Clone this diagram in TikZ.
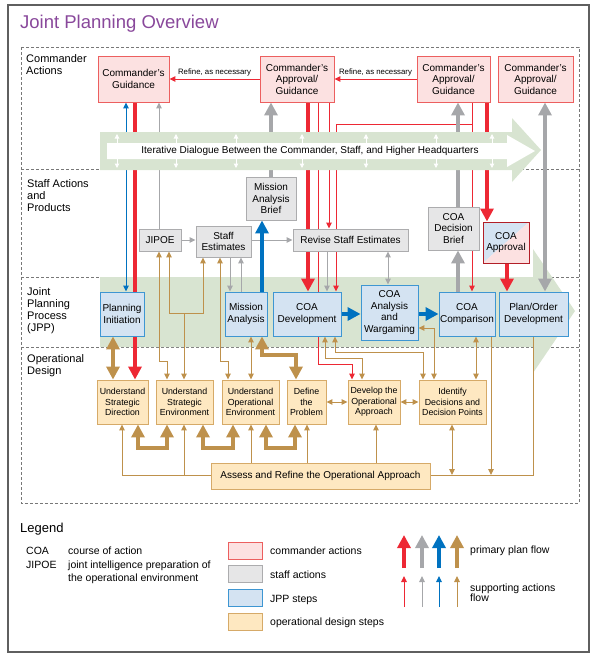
\documentclass[tikz,border=0pt]{standalone}
\usepackage[dvipsnames]{xcolor}
\usepackage{fontspec}
\setmainfont{Liberation Sans}
\usepackage{tikz}
\usetikzlibrary{arrows.meta}
\pgfdeclarelayer{bandlayer}
\pgfdeclarelayer{linelayer}
\pgfdeclarelayer{toplayer}
\pgfsetlayers{bandlayer,linelayer,main,toplayer}

\definecolor{cmdfill}{RGB}{252,225,225}
\definecolor{cmdline}{RGB}{236,95,95}
\definecolor{stafffill}{RGB}{230,230,231}
\definecolor{staffline}{RGB}{172,172,174}
\definecolor{jppfill}{RGB}{212,227,242}
\definecolor{jppline}{RGB}{62,150,210}
\definecolor{opfill}{RGB}{254,232,193}
\definecolor{opline}{RGB}{214,170,104}
\definecolor{bandgreen}{RGB}{216,228,209}
\definecolor{flowred}{RGB}{237,40,52}
\definecolor{flowgray}{RGB}{166,167,170}
\definecolor{flowblue}{RGB}{0,114,192}
\definecolor{flowtan}{RGB}{190,145,76}
\definecolor{titlepurple}{RGB}{137,72,155}
\definecolor{framegray}{RGB}{95,95,95}
\definecolor{dashgray}{RGB}{120,120,120}

\newcommand{\boxfont}{\fontsize{10}{11.5}\selectfont}
\newcommand{\opfont}{\fontsize{8.8}{10.3}\selectfont}
\newcommand{\rowlabelfont}{\fontsize{11}{12}\selectfont}
\newcommand{\notefont}{\fontsize{7.8}{9}\selectfont}
\newcommand{\legendfont}{\fontsize{10.5}{13}\selectfont}

\tikzset{
	box/.style={draw, line width=0.9pt, align=center, inner sep=1pt, font=\boxfont},
	cmdbox/.style={box, fill=cmdfill, draw=cmdline},
	staffbox/.style={box, fill=stafffill, draw=staffline},
	jppbox/.style={box, fill=jppfill, draw=jppline},
	opbox/.style={box, fill=opfill, draw=opline, font=\opfont},
	rowlabel/.style={anchor=north west, inner sep=0, align=left, font=\rowlabelfont},
	legendtext/.style={anchor=base west, inner sep=0, font=\legendfont},
	divider/.style={dashgray, line width=0.9pt, dash pattern=on 3pt off 2pt},
	bigtip/.tip={Triangle[length=13pt,width=13pt]},
	smalltip/.tip={Triangle[length=6pt,width=5.5pt]},
	ticktip/.tip={Triangle[length=4.5pt,width=4.5pt]},
	mainflow/.style={line width=4.5pt, -bigtip},
	mainflows/.style={line width=4.5pt, bigtip-bigtip},
	sideflow/.style={line width=1pt, -smalltip},
	sideflows/.style={line width=1pt, smalltip-smalltip},
	dialogtick/.style={white, line width=1pt, ticktip-ticktip},
}

\begin{document}
\begin{tikzpicture}[x=1pt, y=-1pt]
	\useasboundingbox (0,0) rectangle (594,657);
	\draw[line width=1.4pt, framegray] (8,5) rectangle (589,652);
	\node[anchor=base west, inner sep=0, font=\fontsize{18.5}{20}\selectfont, text=titlepurple] (title) at (20,28) {Joint Planning Overview};

	\begin{pgfonlayer}{bandlayer}
		\draw[divider] (21,47) rectangle (579,503);
		\draw[divider] (21,169) -- (579,169);
		\draw[divider] (21,277) -- (579,277);
		\draw[divider] (21,347) -- (579,347);
		\fill[bandgreen] (100,277) -- (533,277) -- (533,249) -- (575,311) -- (533,373) -- (533,347) -- (100,347) -- cycle;
	\end{pgfonlayer}

	\node[rowlabel] (rowcmd) at (26,54) {Commander\\Actions};
	\node[rowlabel] (rowstaff) at (27,179) {Staff Actions\\and\\Products};
	\node[rowlabel] (rowjpp) at (27,287) {Joint\\Planning\\Process\\(JPP)};
	\node[rowlabel] (rowop) at (27,354) {Operational\\Design};

	\node[cmdbox, minimum width=71, minimum height=46] (cg) at (133.5,79) {Commander's\\Guidance};
	\node[cmdbox, minimum width=74, minimum height=46] (ap1) at (297,79) {Commander's\\Approval/\\Guidance};
	\node[cmdbox, minimum width=73, minimum height=46] (ap2) at (453.5,79) {Commander's\\Approval/\\Guidance};
	\node[cmdbox, minimum width=75, minimum height=46] (ap3) at (535.5,79) {Commander's\\Approval/\\Guidance};

	\node[staffbox, minimum width=50, minimum height=43] (mab) at (271,198.5) {Mission\\Analysis\\Brief};
	\node[staffbox, minimum width=42, minimum height=22] (jipoe) at (160,240) {JIPOE};
	\node[staffbox, minimum width=55, minimum height=31] (se) at (223.5,241.5) {Staff\\Estimates};
	\node[staffbox, minimum width=115, minimum height=22] (rse) at (350.5,240) {Revise Staff Estimates};
	\node[staffbox, minimum width=51, minimum height=43] (cdb) at (453.5,228.5) {COA\\Decision\\Brief};
	\node[box, draw=flowred!75!black, line width=1pt, minimum width=46, minimum height=41,
		path picture={
			\fill[jppfill] (path picture bounding box.north west) -- (path picture bounding box.north east) -- (path picture bounding box.south west) -- cycle;
			\fill[cmdfill] (path picture bounding box.north east) -- (path picture bounding box.south east) -- (path picture bounding box.south west) -- cycle;
		}] (capp) at (506,242.5) {COA\\Approval};

	\node[jppbox, minimum width=44, minimum height=44] (pi) at (122,314) {Planning\\Initiation};
	\node[jppbox, minimum width=42, minimum height=44] (ma) at (246,314) {Mission\\Analysis};
	\node[jppbox, minimum width=68, minimum height=44] (cd) at (307,314) {COA\\Development};
	\node[jppbox, minimum width=57, minimum height=55] (caw) at (389.5,312.5) {COA\\Analysis\\and\\Wargaming};
	\node[jppbox, minimum width=56, minimum height=44] (cc) at (467,314) {COA\\Comparison};
	\node[jppbox, minimum width=69, minimum height=44] (pod) at (533.5,314) {Plan/Order\\Development};

	\node[opbox, minimum width=51, minimum height=44] (usd) at (122.5,402) {Understand\\Strategic\\Direction};
	\node[opbox, minimum width=57, minimum height=44] (use) at (184.5,402) {Understand\\Strategic\\Environment};
	\node[opbox, minimum width=57, minimum height=44] (uoe) at (250.5,402) {Understand\\Operational\\Environment};
	\node[opbox, minimum width=39, minimum height=44] (dtp) at (306.5,402) {Define\\the\\Problem};
	\node[opbox, minimum width=52, minimum height=44] (doa) at (374,402) {Develop the\\Operational\\Approach};
	\node[opbox, minimum width=67, minimum height=44] (iddp) at (452.5,402) {Identify\\Decisions and\\Decision Points};
	\node[opbox, font=\boxfont, minimum width=219, minimum height=26] (arop) at (320.5,476) {Assess and Refine the Operational Approach};

	\begin{pgfonlayer}{linelayer}
		\draw[sideflow, flowred] (ap1.west) -- node[above, font=\notefont, inner sep=2pt, text=black] {Refine, as necessary} (cg.east);
		\draw[sideflow, flowred] (ap2.west) -- node[above, font=\notefont, inner sep=2pt, text=black] {Refine, as necessary} (ap1.east);
		\draw[mainflow, flowred] (135,0 |- cg.south) -- (135,0 |- usd.north);
		\draw[mainflow, flowred] (308,0 |- ap1.south) -- (308,0 |- cd.north);
		\draw[mainflow, flowred] (487,0 |- ap2.south) -- (487,0 |- capp.north);
		\draw[mainflow, flowred] (507,0 |- capp.south) -- (507,0 |- pod.north);
		\draw[sideflow, flowred] (318,0 |- ap1.south) -- (318,364) -- (352,364) -- (352,0 |- doa.north);
		\draw[sideflow, flowred] (329,0 |- ap1.south) -- (329,0 |- rse.north);
		\draw[sideflow, flowred] (472,0 |- ap2.south) -- (472,0 |- cc.north);
		\draw[sideflow, flowred] (472,124) -- (336,124) -- (336,0 |- cd.north);

		\draw[mainflow, flowgray] (mab.north) -- (mab.north |- ap1.south);
		\draw[mainflow, flowgray] (458,0 |- cdb.north) -- (458,0 |- ap2.south);
		\draw[mainflow, flowgray] (458,0 |- cc.north) -- (458,0 |- cdb.south);
		\draw[mainflows, flowgray] (545,0 |- pod.north) -- (545,0 |- ap3.south);
		\draw[sideflow, flowgray] (159,0 |- jipoe.north) -- (159,0 |- cg.south);
		\draw[sideflow, flowgray] (jipoe.east) -- (se.west |- jipoe.east);
		\draw[sideflow, flowgray] (se.east |- rse.west) -- (rse.west);
		\draw[sideflow, flowgray] (230,0 |- se.south) -- (230,0 |- ma.north);
		\draw[sideflow, flowgray] (241,0 |- ma.north) -- (241,0 |- se.south);
		\draw[sideflows, flowgray] (388,0 |- rse.south) -- (388,0 |- caw.north);
		\draw[sideflow, flowgray] (327,0 |- rse.south) -- (327,0 |- cd.north);

		\draw[sideflows, flowblue] (126,0 |- cg.south) -- (126,0 |- pi.north);
		\draw[mainflow, flowblue] (262,0 |- ma.north) -- (262,0 |- mab.south);
		\draw[mainflow, flowblue] (cd.east) -- (caw.west |- cd.east);
		\draw[mainflow, flowblue] (caw.east |- cc.west) -- (cc.west);

		\draw[mainflows, flowtan] (113,0 |- pi.south) -- (113,0 |- usd.north);
		\draw[mainflows, flowtan] (262,0 |- ma.south) -- (262,355) -- (296,355) -- (296,0 |- dtp.north);
		\draw[mainflows, flowtan] (138,0 |- usd.south) -- (138,448) -- (167,448) -- (167,0 |- use.south);
		\draw[mainflows, flowtan] (203,0 |- use.south) -- (203,448) -- (233,448) -- (233,0 |- uoe.south);
		\draw[mainflows, flowtan] (266,0 |- uoe.south) -- (266,448) -- (295,448) -- (295,0 |- dtp.south);
		\draw[sideflows, flowtan] (159,0 |- jipoe.south) -- (159,361) -- (167,361) -- (167,0 |- use.north);
		\draw[sideflows, flowtan] (169,0 |- jipoe.south) -- (169,313) -- (203,313) -- (203,0 |- se.south);
		\draw[sideflow, flowtan] (184,313) -- (184,0 |- use.north);
		\draw[sideflows, flowtan] (220,0 |- se.south) -- (220,361) -- (228,361) -- (228,0 |- uoe.north);
		\draw[sideflows, flowtan] (251,0 |- ma.south) -- (251,0 |- uoe.north);
		\draw[sideflows, flowtan] (325,0 |- cd.south) -- (325,358) -- (362,358) -- (362,0 |- doa.north);
		\draw[sideflows, flowtan] (335,0 |- cd.south) -- (335,352) -- (423,352) -- (423,0 |- iddp.north);
		\draw[sideflows, flowtan] (caw.east |- 0,328) -- (434,328) -- (434,0 |- iddp.north);
		\draw[sideflows, flowtan] (476,0 |- cc.south) -- (476,0 |- iddp.north);
		\draw[sideflow, flowtan] (491,0 |- cc.south) -- (491,475);
		\draw[line width=1pt, flowtan] (533,0 |- pod.south) -- (533,475) -- (arop.east |- 0,475);
		\draw[sideflows, flowtan] (452,0 |- iddp.south) -- (452,475);
		\draw[sideflows, flowtan] (dtp.east) -- (doa.west |- dtp.east);
		\draw[sideflows, flowtan] (doa.east) -- (iddp.west |- doa.east);
		\draw[sideflow, flowtan] (arop.west |- 0,475) -- (122,475) -- (122,0 |- usd.south);
		\draw[sideflow, flowtan] (184,475) -- (184,0 |- use.south);
		\draw[sideflow, flowtan] (251,0 |- arop.north) -- (251,0 |- uoe.south);
		\draw[sideflow, flowtan] (307,0 |- arop.north) -- (307,0 |- dtp.south);
		\draw[sideflow, flowtan] (376,0 |- arop.north) -- (376,0 |- doa.south);
	\end{pgfonlayer}

	\begin{pgfonlayer}{toplayer}
		\fill[bandgreen] (100,132) -- (512,132) -- (512,118) -- (541,150) -- (512,182) -- (512,170) -- (100,170) -- cycle;
		\foreach \x in {117,176,236,302,366,436,492}
			\draw[dialogtick] (\x,134) -- (\x,168);
		\fill[white] (107,143) -- (507,143) -- (507,135) -- (535,151) -- (507,167) -- (507,159) -- (107,159) -- cycle;
		\node[font=\boxfont, inner sep=0] (dialog) at (310,151) {Iterative Dialogue Between the Commander, Staff, and Higher Headquarters};
	\end{pgfonlayer}

	\node[anchor=base west, inner sep=0, font=\fontsize{13}{15}\selectfont] (legend) at (20,532) {Legend};
	\node[legendtext] (abbcoa) at (26,554) {COA};
	\node[legendtext] (defcoa) at (68,554) {course of action};
	\node[legendtext] (abbjipoe) at (26,568) {JIPOE};
	\node[legendtext] (defjipoe) at (68,568) {joint intelligence preparation of};
	\node[legendtext] (defjipoeb) at (68,581) {the operational environment};
	\node[cmdbox, minimum width=34, minimum height=17] (keycmd) at (245,550.5) {};
	\node[staffbox, minimum width=34, minimum height=17] (keystaff) at (245,574) {};
	\node[jppbox, minimum width=34, minimum height=17] (keyjpp) at (245,598) {};
	\node[opbox, minimum width=34, minimum height=17] (keyop) at (245,621.5) {};
	\node[legendtext] (labcmd) at (270,554) {commander actions};
	\node[legendtext] (labstaff) at (270,578) {staff actions};
	\node[legendtext] (labjpp) at (270,602) {JPP steps};
	\node[legendtext] (labop) at (270,625) {operational design steps};
	\foreach \x/\c in {404/flowred,422/flowgray,439/flowblue,457/flowtan} {
		\draw[mainflow, \c] (\x,568) -- (\x,535);
		\draw[sideflow, \c] (\x,607) -- (\x,576);
	}
	\node[legendtext] (labprimary) at (470,553) {primary plan flow};
	\node[legendtext] (labsupport) at (470,591) {supporting actions};
	\node[legendtext] (labsupportb) at (470,601) {flow};
\end{tikzpicture}
\end{document}
